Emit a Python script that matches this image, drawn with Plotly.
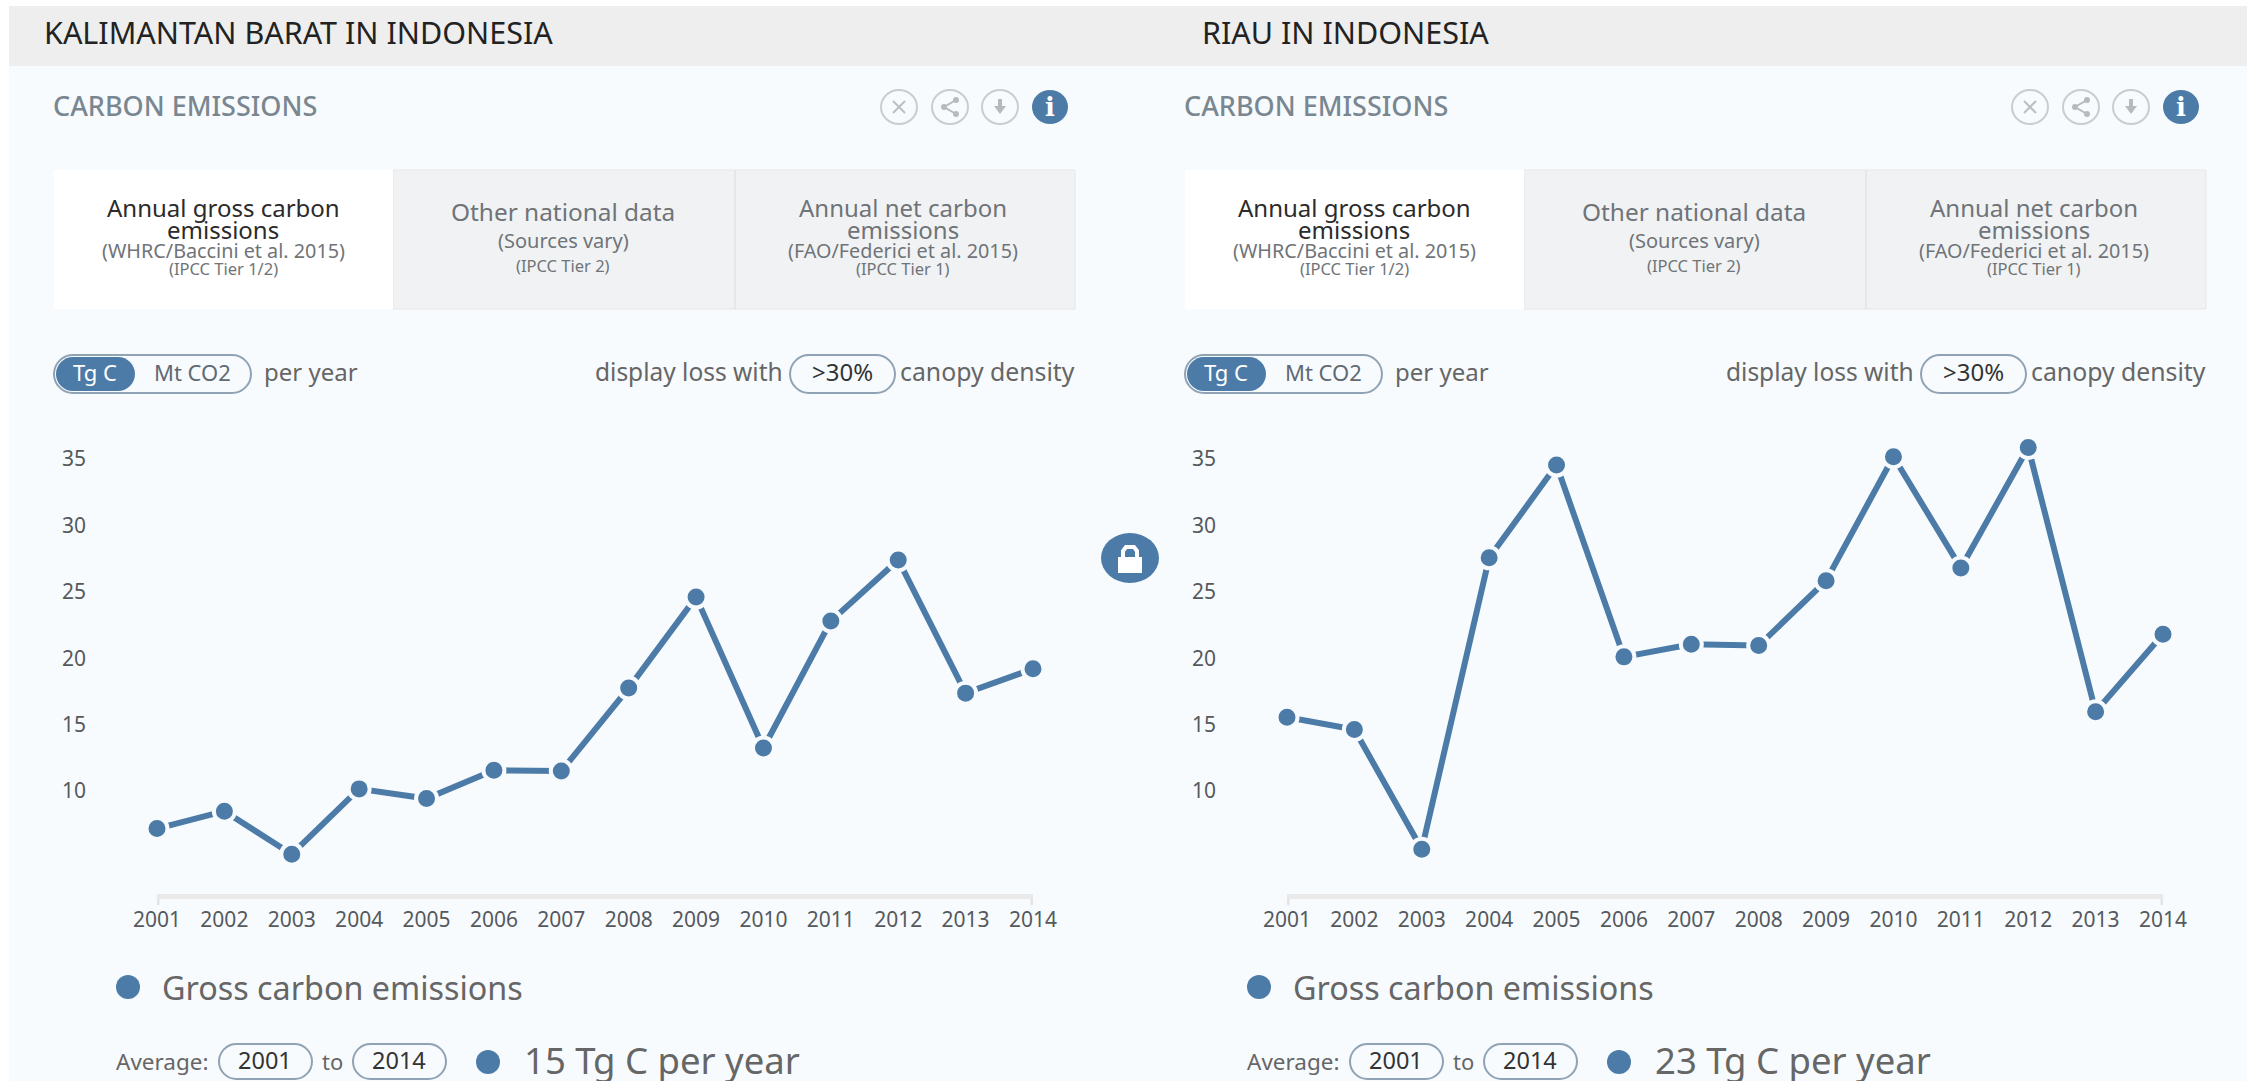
import plotly.graph_objects as go

W, H = 2247, 1081
years = list(range(2001, 2015))
yticks = [10, 15, 20, 25, 30, 35]
kalbar = [7.17, 8.48, 5.24, 10.16, 9.43, 11.56, 11.5, 17.75, 24.6, 13.24, 22.8, 27.4, 17.37, 19.2]
riau = [15.56, 14.63, 5.62, 27.56, 34.54, 20.1, 21.05, 20.95, 25.84, 35.17, 26.79, 35.87, 15.97, 21.8]
headers = ["KALIMANTAN BARAT IN INDONESIA", "RIAU IN INDONESIA"]
averages = ["15 Tg C per year", "23 Tg C per year"]

BLUE = "#4c7ba8"
BG = "#f7fbfe"
FONT = "Noto Sans"
OFFSET = 1131
CHART_OFFSET = 1130


def px(x):
    return x / W


def py(y):
    return 1 - y / H


shapes = []
annotations = []


def rect(x0, y0, x1, y1, fill, line=None, lw=0):
    shapes.append(dict(type="rect", xref="paper", yref="paper", x0=px(x0), x1=px(x1), y0=py(y0), y1=py(y1),
                       fillcolor=fill, line=dict(color=line or "rgba(0,0,0,0)", width=lw), layer="below"))


def circle(cx, cy, rx, ry, fill, line=None, lw=0):
    shapes.append(dict(type="circle", xref="paper", yref="paper", x0=px(cx - rx), x1=px(cx + rx), y0=py(cy + ry), y1=py(cy - ry),
                       fillcolor=fill, line=dict(color=line or "rgba(0,0,0,0)", width=lw), layer="above"))


def path(points, fill=None, line=None, lw=0):
    d = " ".join(f"{c} {px(x):.5f} {py(y):.5f}" if c != "Z" else "Z" for c, x, y in points)
    shapes.append(dict(type="path", xref="paper", yref="paper", path=d, fillcolor=fill or "rgba(0,0,0,0)",
                       line=dict(color=line or "rgba(0,0,0,0)", width=lw), layer="above"))


def pill(x0, y0, x1, y1, fill=None, line="#8fa3b5", lw=2):
    r = (y1 - y0) / 2
    k = 0.55 * r
    d = (f"M {px(x0 + r):.5f} {py(y0):.5f} L {px(x1 - r):.5f} {py(y0):.5f} "
         f"C {px(x1 - r + k):.5f} {py(y0):.5f} {px(x1):.5f} {py(y0 + r - k):.5f} {px(x1):.5f} {py(y0 + r):.5f} "
         f"C {px(x1):.5f} {py(y0 + r + k):.5f} {px(x1 - r + k):.5f} {py(y1):.5f} {px(x1 - r):.5f} {py(y1):.5f} "
         f"L {px(x0 + r):.5f} {py(y1):.5f} "
         f"C {px(x0 + r - k):.5f} {py(y1):.5f} {px(x0):.5f} {py(y0 + r + k):.5f} {px(x0):.5f} {py(y0 + r):.5f} "
         f"C {px(x0):.5f} {py(y0 + r - k):.5f} {px(x0 + r - k):.5f} {py(y0):.5f} {px(x0 + r):.5f} {py(y0):.5f} Z")
    shapes.append(dict(type="path", xref="paper", yref="paper", path=d, fillcolor=fill or "rgba(0,0,0,0)",
                       line=dict(color=line, width=lw), layer="above"))


def text(t, x, y, size, color="#666", anchor="center", family=FONT, weight=400):
    annotations.append(dict(text=t, xref="paper", yref="paper", x=px(x), y=py(y), xanchor=anchor, yanchor="middle",
                            showarrow=False, font=dict(size=size, color=color, family=family, weight=weight),
                            borderpad=0, align=anchor))


# page backgrounds
rect(9, 66, W, H, BG)
rect(9, 6, W, 66, "#eeeeee")
text(headers[0], 43, 32, 30.5, "#222", "left")
text(headers[1], 1201, 32, 30.5, "#222", "left")


def panel(off, avg):
    text("CARBON EMISSIONS", 52 + off, 105, 27, "#7a8791", "left", weight=500)
    # icons
    gray = "#c9cdd0"
    for cx in (899, 950, 1000):
        circle(cx + off, 107, 18, 17, "rgba(0,0,0,0)", gray, 2)
    c = 899 + off
    path([("M", c - 6, 101), ("L", c + 6, 113)], line="#bbbfc3", lw=2)
    path([("M", c + 6, 101), ("L", c - 6, 113)], line="#bbbfc3", lw=2)
    c = 950 + off
    path([("M", c + 6, 100), ("L", c - 6, 107), ("L", c + 6, 114)], line="#b5babe", lw=2)
    for dx, dy in ((6, 100), (-6, 107), (6, 114)):
        circle(c + dx, dy, 3, 3, "#b5babe")
    c = 1000 + off
    path([("M", c - 2, 99), ("L", c + 2, 99), ("L", c + 2, 106), ("L", c + 6, 106), ("L", c, 114), ("L", c - 6, 106), ("L", c - 2, 106), ("Z", 0, 0)], fill="#b5babe")
    circle(1050 + off, 107, 18, 17, BLUE)
    text("<b>i</b>", 1050 + off, 107, 26, "#ffffff", family="DejaVu Serif")

    # tabs
    rect(393 + off, 170, 1075 + off, 309, "#f1f2f4", "#e6e7e9", 1)
    rect(54 + off, 170, 393 + off, 309, "#ffffff")
    shapes.append(dict(type="line", xref="paper", yref="paper", x0=px(735 + off), x1=px(735 + off), y0=py(170), y1=py(309),
                       line=dict(color="#e2e3e5", width=1.5), layer="below"))
    dark, mid = "#2b2b2b", "#6f7478"
    text("Annual gross carbon", 223 + off, 208, 24, dark)
    text("emissions", 223 + off, 230, 24, dark)
    text("(WHRC/Baccini et al. 2015)", 223 + off, 251, 19.8, mid)
    text("(IPCC Tier 1/2)", 223 + off, 268, 16.5, mid)
    text("Other national data", 563 + off, 212, 24.4, mid)
    text("(Sources vary)", 563 + off, 241, 20, mid)
    text("(IPCC Tier 2)", 563 + off, 266, 16.5, mid)
    text("Annual net carbon", 903 + off, 208, 24, mid)
    text("emissions", 903 + off, 230, 24, mid)
    text("(FAO/Federici et al. 2015)", 903 + off, 251, 19.8, mid)
    text("(IPCC Tier 1)", 903 + off, 268, 16.5, mid)

    # toggles
    pill(54 + off, 355, 251 + off, 393)
    pill(56 + off, 357, 135 + off, 391, BLUE, BLUE, 0)
    text("Tg C", 95 + off, 372, 22, "#ffffff")
    text("Mt CO2", 192 + off, 372, 22, "#5f6a73")
    text("per year", 263 + off, 371, 24, "#666", "left")
    text("display loss with", 784 + off, 371, 24.5, "#666", "right")
    pill(790 + off, 355, 895 + off, 393)
    text("&gt;30%", 842 + off, 371, 24, "#333")
    text("canopy density", 1076 + off, 371, 24.8, "#666", "right")

    # legend
    circle(128 + off, 987, 12, 12, BLUE)
    text("Gross carbon emissions", 161 + off, 987, 32.3, "#666", "left")
    text("Average:", 115 + off, 1061, 22.5, "#666", "left")
    pill(219 + off, 1044, 312 + off, 1079)
    text("2001", 265 + off, 1060, 23.5, "#333")
    text("to", 332 + off, 1061, 22, "#666")
    pill(353 + off, 1044, 446 + off, 1079)
    text("2014", 399 + off, 1060, 23.5, "#333")
    circle(488 + off, 1062, 12, 12, BLUE)
    text(avg, 523 + off, 1060, 36.5, "#666", "left")


panel(0, averages[0])
panel(OFFSET, averages[1])

# lock
circle(1130, 558, 29, 25, BLUE)
rect_x0, rect_x1 = 1118, 1142
path([("M", rect_x0, 557), ("L", rect_x1, 557), ("L", rect_x1, 573), ("L", rect_x0, 573), ("Z", 0, 0)], fill="#ffffff")
path([("M", 1123, 557), ("L", 1123, 551), ("L", 1126, 547), ("L", 1134, 547), ("L", 1137, 551), ("L", 1137, 557)], line="#ffffff", lw=4)

AX_TOP, AX_BOTTOM = 430, 894
val = lambda y: 10 + (791 - y) / 13.28
yrange = [val(AX_BOTTOM), val(AX_TOP)]

fig = go.Figure()
for i, (series, off) in enumerate(((kalbar, 0), (riau, CHART_OFFSET))):
    n = "" if i == 0 else "2"
    fig.add_trace(go.Scatter(x=years, y=series, mode="lines+markers", xaxis=f"x{n}", yaxis=f"y{n}",
                             name="Gross carbon emissions", showlegend=False, cliponaxis=False,
                             line=dict(color=BLUE, width=6),
                             marker=dict(color=BLUE, size=21, line=dict(color=BG, width=4))))
    x0, x1 = 157 + off, 1033 + off
    fig.update_layout({
        f"xaxis{n}": dict(domain=[px(x0), px(x1)], range=[years[0], years[-1]], anchor=f"y{n}",
                          tickvals=years, ticks="outside", ticklen=3, tickcolor="rgba(0,0,0,0)",
                          showline=True, linecolor="#e9e9e9", linewidth=5, showgrid=False, zeroline=False,
                          tickfont=dict(size=21, color="#55595d", family=FONT)),
        f"yaxis{n}": dict(domain=[py(AX_BOTTOM), py(AX_TOP)], range=yrange, anchor="free",
                          position=px(86 + off), tickvals=yticks, showgrid=False, zeroline=False, showline=False,
                          ticks="", tickfont=dict(size=21, color="#55595d", family=FONT)),
    })
    for yr in (years[0], years[-1]):
        shapes.append(dict(type="line", xref=f"x{n}", yref="paper", x0=yr, x1=yr, y0=py(AX_BOTTOM), y1=py(AX_BOTTOM + 11),
                           line=dict(color="#e3e3e3", width=5), layer="below"))

fig.update_layout(width=W, height=H, margin=dict(l=0, r=0, t=0, b=0, autoexpand=False), paper_bgcolor="#ffffff",
                  plot_bgcolor="rgba(0,0,0,0)", showlegend=False, shapes=shapes, annotations=annotations,
                  font=dict(family=FONT))
fig.write_html("out.html", config=dict(displayModeBar=False),
               post_script="document.body.style.margin='0';document.body.style.overflow='hidden';")
